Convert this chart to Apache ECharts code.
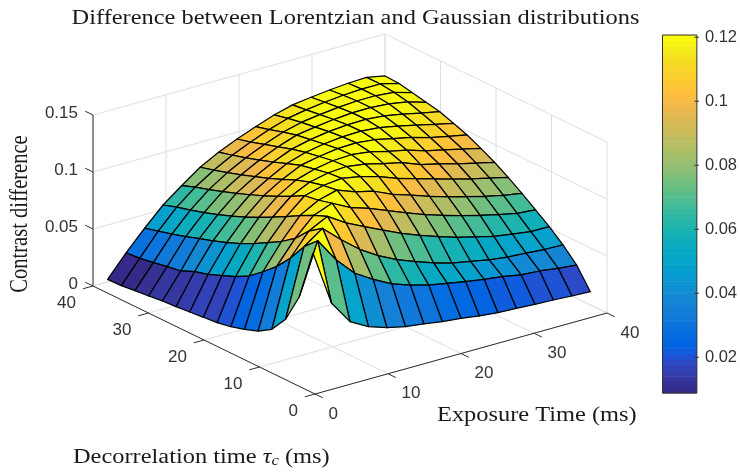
<!DOCTYPE html>
<html><head><meta charset="utf-8">
<style>html,body{margin:0;padding:0;background:#fff}#c{width:740px;height:473px}</style>
<script src="https://cdn.jsdelivr.net/npm/echarts@6/dist/echarts.min.js"></script>
</head><body><div id="c"></div>
<script>
// Grid of the surface
const exposureMs = [2,4.53,7.07,9.6,12.13,14.67,17.2,19.73,22.27,24.8,27.33,29.87,32.4,34.93,37.47,40];
const decorrMs = [3,5.47,7.93,10.4,12.87,15.33,17.8,20.27,22.73,25.2,27.67,30.13,32.6,35.07,37.53,40];
// Height: row = decorrelation index, column = exposure index
const row00 = [.113,.0647,.0438,.0349,.0295,.0259,.0238,.0213,.0197,.0173,.0157,.015,.014,.0133,.0123,.0116];
const row01 = [.0686,.1134,.092,.0759,.066,.0575,.0521,.0475,.0446,.0415,.0391,.0369,.0339,.0329,.0307,.0291];
const row02 = [.0432,.1024,.1139,.0995,.0866,.0765,.0686,.0622,.0566,.0519,.0491,.0458,.0438,.0427,.0414,.0409];
const row03 = [.0286,.0864,.1057,.1141,.104,.0962,.0886,.0812,.0749,.0693,.0643,.0602,.0561,.0535,.0513,.0511];
const row04 = [.0212,.0732,.0934,.1091,.1153,.1069,.1019,.0954,.0889,.0829,.0776,.0729,.0687,.0648,.0614,.0599];
const row05 = [.0169,.0629,.0849,.1032,.1121,.1165,.1105,.1065,.0993,.0941,.0886,.0835,.0792,.075,.0713,.0687];
const row06 = [.0133,.0533,.0781,.0964,.1102,.1147,.1165,.1135,.109,.1029,.0982,.0934,.0888,.0844,.0806,.0768];
const row07 = [.011,.0468,.0714,.09,.1039,.1117,.1153,.1165,.114,.11,.1065,.1001,.0962,.0919,.0879,.0842];
const row08 = [.0099,.0419,.0656,.084,.098,.1077,.1128,.1157,.1165,.1145,.1105,.107,.1018,.0982,.0945,.0906];
const row09 = [.0087,.0373,.0606,.0784,.0926,.1025,.1103,.1136,.116,.1165,.1148,.1112,.1078,.1032,.0997,.0965];
const row10 = [.0075,.0337,.0562,.0734,.0877,.0975,.1061,.1113,.1142,.116,.1165,.115,.1118,.1082,.1044,.1009];
const row11 = [.0067,.0285,.0523,.069,.0831,.0932,.1015,.1084,.1122,.1147,.1162,.1165,.115,.112,.1085,.1052];
const row12 = [.0052,.0264,.0482,.0649,.0788,.089,.0974,.1046,.1103,.1129,.115,.1163,.1165,.1152,.1125,.1076];
const row13 = [.004,.0242,.0447,.0612,.0747,.0851,.0936,.1008,.107,.1111,.1135,.1153,.1164,.1165,.115,.1102];
const row14 = [.0026,.0221,.0415,.058,.071,.0814,.09,.0971,.1035,.1088,.1118,.114,.1156,.1165,.1165,.1126];
const row15 = [.0023,.0211,.0381,.054,.0664,.0781,.0868,.0939,.1002,.106,.1103,.1125,.1144,.1158,.1165,.1132];
const heights = [row00,row01,row02,row03,row04,row05,row06,row07,row08,row09,row10,row11,row12,row13,row14,row15];
const colorOffset = 0.0064;   // colours in the picture sit this much above the drawn height

const exposureTicks = [0,10,20,30,40];
const decorrTicks = [0,10,20,30,40];
const contrastTicks = [0,0.05,0.1,0.15];
const contrastLabels = ['0','0.05','0.1','0.15'];
const colorbarTicks = [0.02,0.04,0.06,0.08,0.1,0.12];

const parula = [[.2081,.1663,.5292],[.2116,.1898,.5777],[.2123,.2138,.627],[.2081,.2386,.6771],[.1959,.2645,.7279],[.1707,.2919,.7792],[.1253,.3242,.8303],[.0591,.3598,.8683],[.0117,.3875,.882],[.006,.4086,.8828],[.0165,.4266,.8786],[.0329,.443,.872],[.0498,.4586,.8641],[.0629,.4737,.8554],[.0723,.4887,.8467],[.0779,.504,.8384],[.0793,.52,.8312],[.0749,.5375,.8263],[.0641,.557,.824],[.0488,.5772,.8228],[.0343,.5966,.8199],[.0265,.6137,.8135],[.0239,.6287,.8038],[.0231,.6418,.7913],[.0228,.6535,.7768],[.0267,.6642,.7607],[.0384,.6743,.7436],[.059,.6838,.7254],[.0843,.6928,.7062],[.1133,.7015,.6859],[.1453,.7098,.6646],[.1801,.7177,.6424],[.2178,.725,.6193],[.2586,.7317,.5954],[.3022,.7376,.5712],[.3482,.7424,.5473],[.3953,.7459,.5244],[.442,.7481,.5033],[.4871,.7491,.484],[.53,.7491,.4661],[.5709,.7485,.4494],[.6099,.7473,.4337],[.6473,.7456,.4188],[.6834,.7435,.4044],[.7184,.7411,.3905],[.7525,.7384,.3768],[.7858,.7356,.3633],[.8185,.7327,.3498],[.8507,.7299,.336],[.8824,.7274,.3217],[.9139,.7258,.3063],[.945,.7261,.2886],[.9739,.7314,.2666],[.9938,.7455,.2403],[.999,.7653,.2164],[.9955,.7861,.1967],[.988,.8066,.1794],[.9789,.8271,.1633],[.9697,.8481,.1475],[.9626,.8705,.1309],[.9589,.8949,.1132],[.9598,.9218,.0948],[.9661,.9514,.0755],[.9763,.9831,.0538]];
const cssColor = c => 'rgb(' + c.map(v => Math.round(v*255)).join(',') + ')';
const colorMin = 0.00884, colorMax = 0.1207;
function colorFor(v){
  let k = Math.floor((v - colorMin)/(colorMax - colorMin)*parula.length);
  k = Math.max(0, Math.min(parula.length-1, k));
  return cssColor(parula[k]);
}

// Orthographic view of the 3D box
const view = {ox:315, oy:394, ex:7.3, ey:-2.025, tx:-5.55, ty:-2.7, zy:-1140};
const toFlat = (e,t,z) => [view.ox + e*view.ex + t*view.tx, view.oy + e*view.ey + t*view.ty + z*view.zy];
const axisColor = '#303030', gridColor = '#dedede', tickFont = '17px "Liberation Sans"', serif = '"Liberation Serif"';
const serifFont = '20.5px ' + serif, textStretch = 1.19, inkColor = '#1a1a1a';

function segment(api, a, b, color, width){
  const p = api.coord(a), q = api.coord(b);
  return {type:'line', shape:{x1:p[0],y1:p[1],x2:q[0],y2:q[1]}, style:{stroke:color, lineWidth:width}};
}
function wallsItem(params, api){
  const ch = [], E = 40, T = 40, Z = 0.15;
  exposureTicks.forEach(e => {
    ch.push(segment(api, toFlat(e,0,0), toFlat(e,T,0), gridColor, 1));
    ch.push(segment(api, toFlat(e,T,0), toFlat(e,T,Z), gridColor, 1));
  });
  decorrTicks.forEach(t => {
    ch.push(segment(api, toFlat(0,t,0), toFlat(E,t,0), gridColor, 1));
    ch.push(segment(api, toFlat(E,t,0), toFlat(E,t,Z), gridColor, 1));
  });
  contrastTicks.forEach(z => {
    ch.push(segment(api, toFlat(0,T,z), toFlat(E,T,z), gridColor, 1));
    ch.push(segment(api, toFlat(E,T,z), toFlat(E,0,z), gridColor, 1));
  });
  return {type:'group', children:ch};
}
function axesItem(params, api){
  const ch = [], E = 40, T = 40, Z = 0.15, tick = 1.4;
  ch.push(segment(api, toFlat(0,0,0), toFlat(E,0,0), axisColor, 1));
  ch.push(segment(api, toFlat(0,0,0), toFlat(0,T,0), axisColor, 1));
  ch.push(segment(api, toFlat(0,T,0), toFlat(0,T,Z), axisColor, 1));
  const text = (s,x,y,align) => {
    const p = api.coord([x,y]);
    return {type:'text', style:{text:s, x:p[0], y:p[1], textAlign:align, textVerticalAlign:'middle', font:tickFont, fill:'#333'}};
  };
  exposureTicks.forEach(e => {
    ch.push(segment(api, toFlat(e,0,0), toFlat(e,-tick,0), axisColor, 1));
    const p = toFlat(e,0,0);
    ch.push(text(String(e), p[0]+13.5, p[1]+20, 'left'));
  });
  decorrTicks.forEach(t => {
    ch.push(segment(api, toFlat(0,t,0), toFlat(-tick,t,0), axisColor, 1));
    const p = toFlat(0,t,0);
    ch.push(text(String(t), p[0]-17, p[1]+17.5, 'right'));
  });
  contrastTicks.forEach((z,k) => {
    ch.push(segment(api, toFlat(0,T,z), toFlat(0,T+tick,z), axisColor, 1));
    const p = toFlat(0,T,z);
    ch.push(text(contrastLabels[k], p[0]-15, p[1]-2, 'right'));
  });
  return {type:'group', children:ch};
}
function cellItem(params, api){
  const i = api.value(0), j = api.value(1);
  const corners = [[i,j],[i,j+1],[i+1,j+1],[i+1,j]];
  const points = corners.map(([a,b]) => api.coord(toFlat(exposureMs[b], decorrMs[a], heights[a][b])));
  return {type:'polygon', shape:{points}, style:{fill:colorFor(heights[i][j]+colorOffset), stroke:'#000', lineWidth:1.25, lineJoin:'round'}};
}
const cells = [];
for (let s = 2*(decorrMs.length-2); s >= 0; s--)
  for (let i = 0; i < decorrMs.length-1; i++){
    const j = s - i;
    if (j >= 0 && j < exposureMs.length-1) cells.push([i,j]);
  }
const bandStep = (colorMax-colorMin)/parula.length;
const bands = parula.map((c,k) => [k]);
function bandItem(params, api){
  const k = api.value(0);
  const a = api.coord([0, colorMin + k*bandStep]), b = api.coord([1, colorMin + (k+1)*bandStep]);
  return {type:'rect', shape:{x:a[0], y:b[1], width:b[0]-a[0], height:a[1]-b[1]+0.5}, style:{fill:cssColor(parula[k])}};
}
function barTickItem(params, api){
  const v = api.value(0);
  return segment(api, [0.93, v], [1.06, v], axisColor, 1);
}

const chart = echarts.init(document.getElementById('c'));
chart.setOption({
  animation:false,
  backgroundColor:'#fff',
  grid:[
    {left:0, right:0, top:0, bottom:0},
    {left:662.5, width:37, top:35, height:358, show:true, borderColor:'#303030', borderWidth:1, backgroundColor:'transparent', z:5}
  ],
  xAxis:[
    {gridIndex:0, type:'value', min:0, max:740, show:false},
    {gridIndex:1, type:'value', min:0, max:1, show:false}
  ],
  yAxis:[
    {gridIndex:0, type:'value', min:0, max:473, inverse:true, show:false},
    {gridIndex:1, type:'value', min:colorMin, max:colorMax, position:'right', splitLine:{show:false},
     axisLine:{show:false},
     axisTick:{show:false},
     axisLabel:{inside:false, margin:8, color:'#333', fontFamily:'Liberation Sans', fontSize:16.5, customValues:colorbarTicks, formatter:v => String(v)}}
  ],
  series:[
    {type:'custom', xAxisIndex:0, yAxisIndex:0, silent:true, renderItem:wallsItem, data:[[0]], z:1},
    {type:'custom', xAxisIndex:0, yAxisIndex:0, silent:true, renderItem:axesItem, data:[[0]], z:2},
    {type:'custom', xAxisIndex:0, yAxisIndex:0, silent:true, renderItem:cellItem, data:cells, z:3},
    {type:'custom', xAxisIndex:1, yAxisIndex:1, silent:true, renderItem:bandItem, data:bands, z:4},
    {type:'custom', xAxisIndex:1, yAxisIndex:1, silent:true, clip:false, renderItem:barTickItem, data:colorbarTicks.map(v => [v]), encode:{y:0}, z:6}
  ],
  graphic:[
    {type:'text', x:355.5, y:18.5, scaleX:textStretch, z:10, style:{text:'Difference between Lorentzian and Gaussian distributions', font:serifFont, fill:inkColor, textAlign:'center', textVerticalAlign:'middle'}},
    {type:'text', x:21, y:214, rotation:Math.PI/2, scaleY:textStretch, z:10, style:{text:'Contrast difference', font:serifFont, fill:inkColor, textAlign:'center', textVerticalAlign:'middle'}},
    {type:'text', x:437, y:415.5, scaleX:textStretch, z:10, style:{text:'Exposure Time (ms)', font:serifFont, fill:inkColor, textAlign:'left', textVerticalAlign:'middle'}},
    {type:'text', x:73, y:458, scaleX:textStretch, z:10, style:{
      text:'Decorrelation time {t|τ}{s|c} (ms)', font:serifFont, fill:inkColor, textVerticalAlign:'middle',
      rich:{t:{fontFamily:serif, fontSize:20.5, fontStyle:'italic', fill:inkColor}, s:{fontFamily:serif, fontSize:14, fontStyle:'italic', fill:inkColor, padding:[7,0,0,0]}}
    }}
  ]
});
</script></body></html>
